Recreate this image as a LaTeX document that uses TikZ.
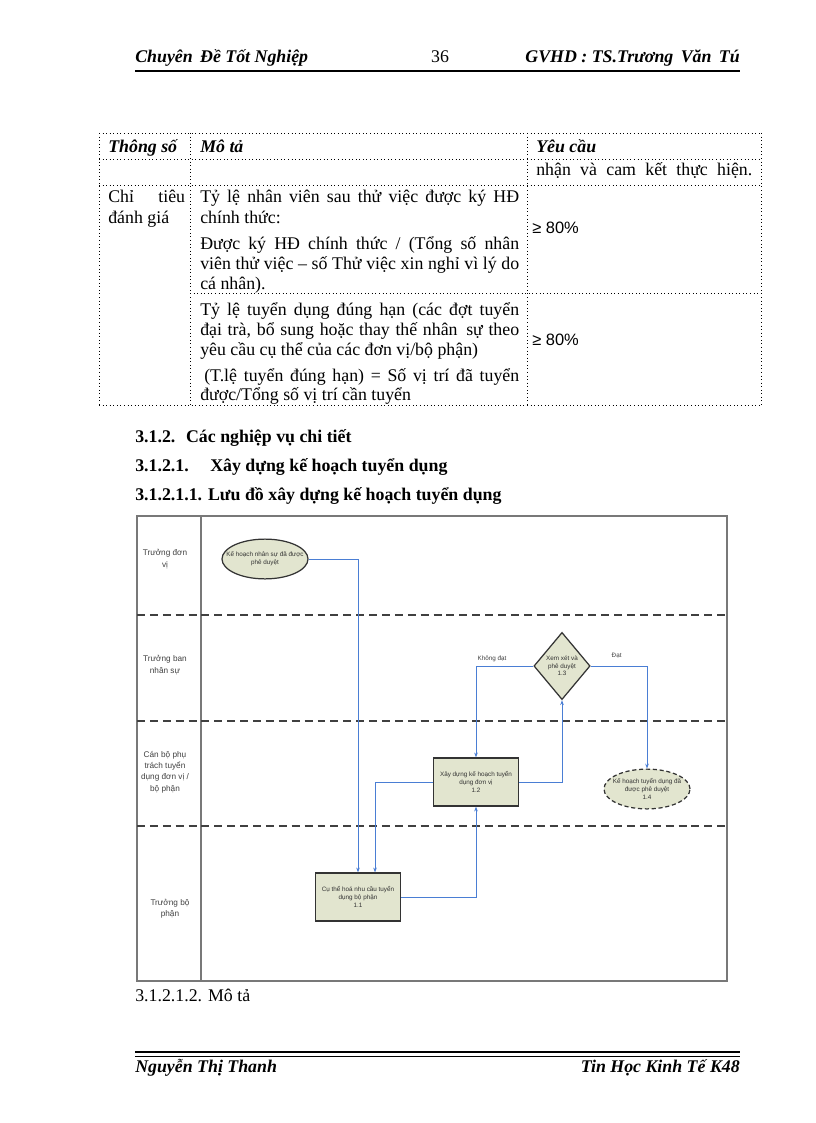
\documentclass[tikz,border=0pt]{standalone}
\usepackage{fontspec}
\setmainfont{Liberation Serif}
\newfontfamily\arialfont{Liberation Sans}
\usetikzlibrary{shapes.geometric,arrows.meta}
\definecolor{flowblue}{RGB}{74,126,212}
\definecolor{boxfill}{RGB}{226,229,207}
\definecolor{lanegray}{RGB}{120,120,120}
\newcommand{\squeeze}[1]{\makebox[20pt]{#1}}
\newcommand{\jline}[2]{\makebox[#1][s]{#2}}

\begin{document}
\begin{tikzpicture}[x=0.729pt,y=-0.729pt,
    bodytext/.style={anchor=base west,inner sep=0pt,font=\fontsize{13}{15}\selectfont},
    headtext/.style={inner sep=0pt,font=\fontsize{13}{15}\selectfont\bfseries\itshape},
    sectitle/.style={anchor=base west,inner sep=0pt,font=\fontsize{13}{15}\selectfont\bfseries},
    pctext/.style={anchor=base west,inner sep=0pt,font=\arialfont\fontsize{12}{14}\selectfont},
    grid/.style={dotted,line width=0.6pt},
    lanelabel/.style={align=center,inner sep=0pt,text=black!75,font=\arialfont\fontsize{6}{8.2}\selectfont},
    lane/.style={black!75,line width=0.9pt,dash pattern=on 5.8pt off 3.6pt},
    flowtext/.style={align=center,text=black!80,font=\arialfont\fontsize{4.6}{5.6}\selectfont},
    procbox/.style={flowtext,rectangle,draw=black!80,line width=0.9pt,fill=boxfill,minimum width=62pt,minimum height=35pt,inner sep=1pt},
    termbox/.style={flowtext,ellipse,draw=black!80,line width=0.9pt,fill=boxfill,minimum width=62.7pt,minimum height=29pt,inner sep=0pt},
    decbox/.style={flowtext,diamond,draw=black!80,line width=0.9pt,fill=boxfill,minimum width=41pt,minimum height=49pt,inner sep=0pt},
    flow/.style={draw=flowblue,line width=0.7pt,-{Stealth[length=3.5pt,width=2.6pt]}},
    flowlabel/.style={inner sep=1pt,text=black!75,font=\arialfont\fontsize{4.6}{5.6}\selectfont}
]
\fill[white] (0,0) rectangle (816,1123);
\useasboundingbox (0,0) rectangle (816,1123);

% header
\node[headtext,anchor=base west] (hleft) at (135,63) {Chuyên\, Đề Tốt Nghiệp};
\node[anchor=base,inner sep=0pt,font=\fontsize{13}{15}\selectfont] (hpage) at (440,63) {36};
\node[headtext,anchor=base east] (hright) at (740,63) {GVHD : TS.Trương\, Văn\, Tú};
\draw[line width=1.3pt] (135,71) -- (740,71);

% table
\draw[grid] (99,133) -- (761,133);
\draw[grid] (99,159) -- (761,159);
\draw[grid] (99,185) -- (761,185);
\draw[grid] (190,293) -- (761,293);
\draw[grid] (99,405) -- (761,405);
\draw[grid] (99,133) -- (99,405);
\draw[grid] (190,133) -- (190,405);
\draw[grid] (527,133) -- (527,405);
\draw[grid] (761,133) -- (761,405);

\node[bodytext,font=\fontsize{13}{15}\selectfont\bfseries\itshape] (th1) at (108,153) {Thông số};
\node[bodytext,font=\fontsize{13}{15}\selectfont\bfseries\itshape] (th2) at (200,153) {Mô tả};
\node[bodytext,font=\fontsize{13}{15}\selectfont\bfseries\itshape] (th3) at (536,153) {Yêu cầu};
\node[bodytext] (r2c3) at (536,176) {\jline{157.5pt}{nhận và cam kết thực hiện.}};

\node[bodytext] (r3c1a) at (108,203) {\jline{56pt}{Chỉ tiêu}};
\node[bodytext] (r3c1b) at (108,223) {đánh giá};
\node[bodytext] (r3a) at (200,203) {\jline{232.5pt}{Tỷ lệ nhân viên sau thử việc được ký HĐ}};
\node[bodytext] (r3b) at (200,223) {chính thức:};
\node[bodytext] (r3c) at (200,250) {\jline{232.5pt}{Được ký HĐ chính thức / (Tổng số nhân}};
\node[bodytext] (r3d) at (200,269) {\jline{232.5pt}{viên thử việc – số Thử việc xin nghỉ vì lý do}};
\node[bodytext] (r3e) at (200,289) {cá nhân).};
\node[pctext] (r3v) at (532,233) {≥ 80\%};

\node[bodytext] (r4a) at (200,315) {\jline{232.5pt}{Tỷ lệ tuyển dụng đúng hạn (các đợt tuyển}};
\node[bodytext] (r4b) at (200,335) {\jline{232.5pt}{đại trà, bổ sung hoặc thay thế nhân\, sự theo}};
\node[bodytext] (r4c) at (200,355) {yêu cầu cụ thể của các đơn vị/bộ phận)};
\node[bodytext] (r4d) at (204,381) {\jline{229.6pt}{(T.lệ tuyển đúng hạn) = Số vị trí đã tuyển}};
\node[bodytext] (r4e) at (200,400) {được/Tổng số vị trí cần tuyển};
\node[pctext] (r4v) at (532,345) {≥ 80\%};

% section titles
\node[sectitle] (sec1) at (135,442) {3.1.2.\hspace{0.6em}Các nghiệp vụ chi tiết};
\node[sectitle] (sec2) at (135,471) {\makebox[54.7pt][l]{3.1.2.1.}Xây dựng kế hoạch tuyển dụng};
\node[sectitle] (sec3) at (135,500) {3.1.2.1.1. Lưu đồ xây dựng kế hoạch tuyển dụng};

% swimlanes
\draw[lanegray,line width=1.2pt] (137,516) rectangle (727,981);
\draw[lanegray,line width=1.2pt] (201,516) -- (201,981);
\draw[lane] (137,615) -- (727,615);
\draw[lane] (137,721) -- (727,721);
\draw[lane] (137,826) -- (727,826);

\node[lanelabel] (ln1) at (165,559) {Trưởng đơn\\vị};
\node[lanelabel] (ln2) at (165,665) {Trưởng ban\\nhân sự};
\node[lanelabel] (ln3) at (165,772) {Cán bộ phụ\\trách tuyển\\dụng đơn vị /\\bộ phận};
\node[lanelabel] (ln4) at (170,909) {Trưởng bộ\\phận};

% flow nodes
\node[termbox] (e0) at (265,559) {\squeeze{Kế hoạch nhân sự đã được}\\phê duyệt};
\node[procbox] (b11) at (358,897) {Cụ thể hoá nhu cầu tuyển\\dụng bộ phận\\1.1};
\node[procbox] (b12) at (476,782) {Xây dựng kế hoạch tuyển\\dụng đơn vị\\1.2};
\node[decbox] (d13) at (562,666) {\squeeze{Xem xét và}\\phê duyệt\\1.3};
\node[termbox,dashed,dash pattern=on 3pt off 2pt] (e14) at (647,789) {\squeeze{Kế hoạch tuyển dụng đã}\\được phê duyệt\\1.4};

% connectors
\draw[flow] (e0.east) -| (b11.north);
\draw[flow] (b11.east) -| (b12.south);
\draw[flow] (b12.west) -| ([xshift=12.4pt]b11.north);
\draw[flow] (b12.east) -| (d13.south);
\draw[flow] (d13.west) -| node[flowlabel,pos=0.36,above=2pt]{Không đạt} (b12.north);
\draw[flow] (d13.east) -| node[flowlabel,pos=0.23,above=4pt]{Đạt} (e14.north);

\node[bodytext] (sec4) at (135,1001) {3.1.2.1.2. Mô tả};

% footer
\draw[line width=1.2pt] (135,1052) -- (740,1052);
\draw[line width=0.5pt] (135,1056) -- (740,1056);
\node[headtext,anchor=base west] (fleft) at (135,1072) {Nguyễn Thị Thanh};
\node[headtext,anchor=base east] (fright) at (740,1072) {Tin Học Kinh Tế K48};
\end{tikzpicture}
\end{document}
